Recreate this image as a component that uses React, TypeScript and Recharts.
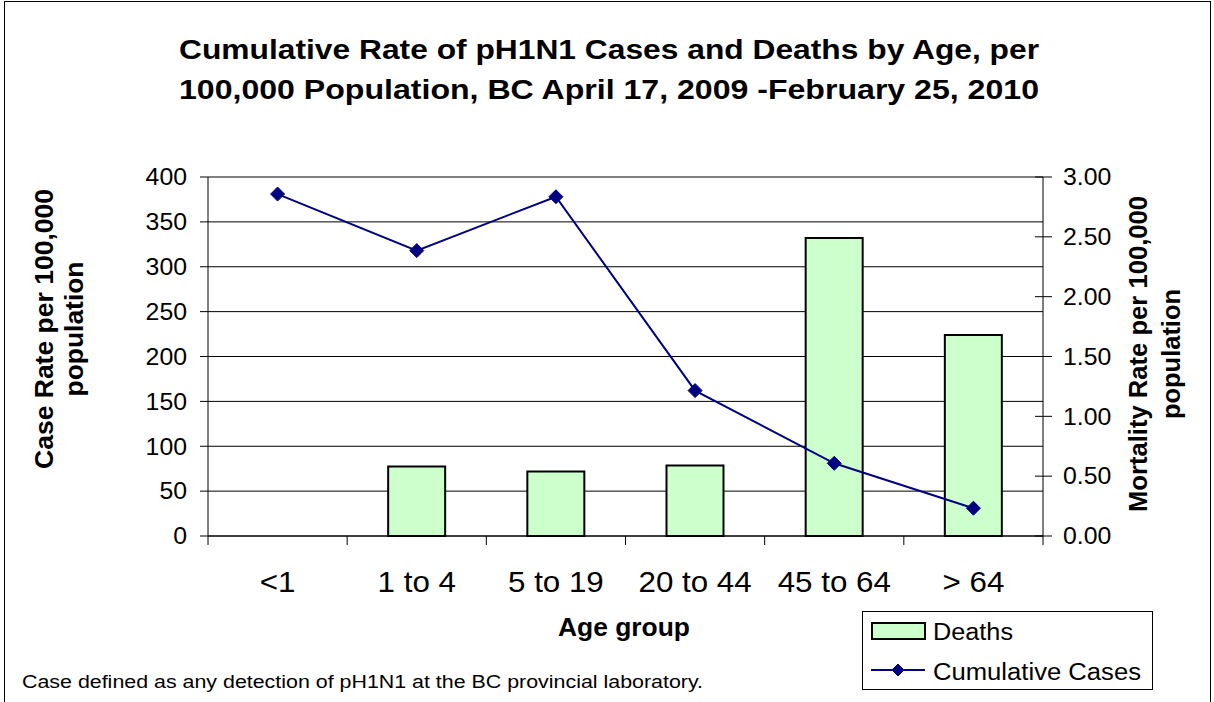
import {
  Bar,
  CartesianGrid,
  ComposedChart,
  Legend,
  Line,
  XAxis,
  YAxis,
} from "recharts";

const ageGroups = ["<1", "1 to 4", "5 to 19", "20 to 44", "45 to 64", "> 64"];
const caseRate = [381, 318, 378, 162, 81, 31];
const mortalityRate = [0, 0.58, 0.54, 0.59, 2.49, 1.68];
const caseTicks = [0, 50, 100, 150, 200, 250, 300, 350, 400];
const mortalityTicks = [0, 0.5, 1, 1.5, 2, 2.5, 3];

const titleLines = [
  "Cumulative Rate of pH1N1 Cases and Deaths by Age, per",
  "100,000 Population, BC April 17, 2009 -February 25, 2010",
];
const leftTitle = ["Case Rate per 100,000", "population"];
const rightTitle = ["Mortality Rate per 100,000", "population"];
const xTitle = "Age group";
const footnote = "Case defined as any detection of pH1N1 at the BC provincial laboratory.";
const deathsName = "Deaths";
const casesName = "Cumulative Cases";

const data = ageGroups.map((age, i) => ({
  age,
  cases: caseRate[i],
  deaths: mortalityRate[i],
}));

const FONT = "'Liberation Sans', Arial, sans-serif";
const W = 1214;
const H = 702;
const NAVY = "#000080";
const GREEN = "#CCFFCC";
// the source picture is stretched sideways a little
const SX = 1.08;

function Diamond({ cx, cy, r }: { cx: number; cy: number; r: number }) {
  return (
    <path
      d={`M${cx},${cy - r} L${cx + r},${cy} L${cx},${cy + r} L${cx - r},${cy} Z`}
      fill={NAVY}
      stroke={NAVY}
    />
  );
}

function AgeTick(props: any) {
  const { x, y, payload, index } = props;
  const half = payload?.offset ?? 0;
  return (
    <g>
      <line x1={x - half} x2={x - half} y1={y} y2={y + 9} stroke="#000" />
      {index === ageGroups.length - 1 && (
        <line x1={x + half} x2={x + half} y1={y} y2={y + 9} stroke="#000" />
      )}
      <text
        transform={`translate(${x}, ${y + 56}) scale(${SX}, 1)`}
        textAnchor="middle"
        fontSize={29}
        fontFamily={FONT}
        fill="#000"
      >
        {payload.value}
      </text>
    </g>
  );
}

function RightTick(props: any) {
  const { x, y, payload } = props;
  return (
    <g>
      <line x1={x - 8} x2={x + 9} y1={y} y2={y} stroke="#000" />
      <text
        transform={`translate(${x + 20}, ${y}) scale(${SX}, 1)`}
        dy="0.36em"
        textAnchor="start"
        fontSize={23}
        fontFamily={FONT}
        fill="#000"
      >
        {Number(payload.value).toFixed(2)}
      </text>
    </g>
  );
}

function LeftTick(props: any) {
  const { x, y, payload } = props;
  return (
    <text
      transform={`translate(${x}, ${y}) scale(${SX}, 1)`}
      dy="0.36em"
      textAnchor="end"
      fontSize={23}
      fontFamily={FONT}
      fill="#000"
    >
      {payload.value}
    </text>
  );
}

function LegendBox() {
  return (
    <svg width={291} height={79} style={{ display: "block" }}>
      <rect x={0.5} y={0.5} width={290} height={78} fill="#fff" stroke="#000" />
      <rect x={10} y={12} width={53} height={16} fill={GREEN} stroke="#000" strokeWidth={2} />
      <text x={71} y={29} fontSize={23} fontFamily={FONT} fill="#000" textLength={80} lengthAdjust="spacingAndGlyphs">
        {deathsName}
      </text>
      <line x1={9} x2={63} y1={59} y2={59} stroke={NAVY} strokeWidth={2} />
      <Diamond cx={36} cy={59} r={6} />
      <text x={71} y={69} fontSize={23} fontFamily={FONT} fill="#000" textLength={208} lengthAdjust="spacingAndGlyphs">
        {casesName}
      </text>
    </svg>
  );
}

export default function App() {
  return (
    <div style={{ position: "absolute", left: 0, top: 0, width: W, height: H, background: "#fff", overflow: "hidden" }}>
      <ComposedChart
        width={W}
        height={H}
        data={data}
        margin={{ top: 177, right: 71, bottom: 106, left: 110 }}
        style={{ fontFamily: FONT }}
      >
        <CartesianGrid yAxisId="left" vertical={false} stroke="#000" strokeOpacity={1} />
        <XAxis
          dataKey="age"
          height={60}
          tickLine={false}
          tickSize={0}
          tickMargin={0}
          axisLine={{ stroke: "#000" }}
          tick={<AgeTick />}
          interval={0}
        />
        <YAxis
          yAxisId="left"
          orientation="left"
          width={98}
          domain={[0, 400]}
          ticks={caseTicks}
          tickSize={8}
          tickMargin={13}
          axisLine={{ stroke: "#000" }}
          tickLine={{ stroke: "#000" }}
          tick={<LeftTick />}
          interval={0}
        />
        <YAxis
          yAxisId="right"
          orientation="right"
          width={100}
          domain={[0, 3]}
          ticks={mortalityTicks}
          tickSize={0}
          tickMargin={0}
          axisLine={{ stroke: "#000" }}
          tickLine={false}
          tick={<RightTick />}
          interval={0}
        />
        <Bar
          yAxisId="right"
          dataKey="deaths"
          name={deathsName}
          fill={GREEN}
          stroke="#000"
          strokeWidth={2}
          barSize={57}
          isAnimationActive={false}
        />
        <Line
          yAxisId="left"
          type="linear"
          dataKey="cases"
          name={casesName}
          stroke={NAVY}
          strokeWidth={2}
          dot={(p: any) => <Diamond key={`d-${p.index}`} cx={p.cx} cy={p.cy} r={7} />}
          activeDot={false}
          isAnimationActive={false}
        />
        <Legend
          layout="horizontal"
          verticalAlign="middle"
          align="center"
          wrapperStyle={{ position: "absolute", left: 862, top: 611, width: 291, height: 79 }}
          content={() => <LegendBox />}
        />
      </ComposedChart>
      <svg
        width={W}
        height={H}
        style={{ position: "absolute", left: 0, top: 0, pointerEvents: "none" }}
        fontFamily={FONT}
      >
        <rect x={4.5} y={1.5} width={1206} height={800} fill="none" stroke="#000" />
        {titleLines.map((t, i) => (
          <text
            key={t}
            x={609}
            y={59 + i * 40}
            textAnchor="middle"
            fontSize={27}
            fontWeight="bold"
            fill="#000"
            textLength={860}
            lengthAdjust="spacingAndGlyphs"
          >
            {t}
          </text>
        ))}
        {leftTitle.map((t, i) => (
          <text
            key={t}
            transform={`translate(${53 + i * 30}, 329) rotate(-90)`}
            textAnchor="middle"
            fontSize={25}
            fontWeight="bold"
            fill="#000"
            textLength={i === 0 ? 280 : 135}
            lengthAdjust="spacingAndGlyphs"
          >
            {t}
          </text>
        ))}
        {rightTitle.map((t, i) => (
          <text
            key={t}
            transform={`translate(${1147 + i * 33}, 354) rotate(-90)`}
            textAnchor="middle"
            fontSize={25}
            fontWeight="bold"
            fill="#000"
            textLength={i === 0 ? 316 : 130}
            lengthAdjust="spacingAndGlyphs"
          >
            {t}
          </text>
        ))}
        <text
          x={624}
          y={636}
          textAnchor="middle"
          fontSize={25}
          fontWeight="bold"
          fill="#000"
          textLength={132}
          lengthAdjust="spacingAndGlyphs"
        >
          {xTitle}
        </text>
        <text x={22} y={688} fontSize={17.5} fill="#000" textLength={681} lengthAdjust="spacingAndGlyphs">
          {footnote}
        </text>
      </svg>
    </div>
  );
}
